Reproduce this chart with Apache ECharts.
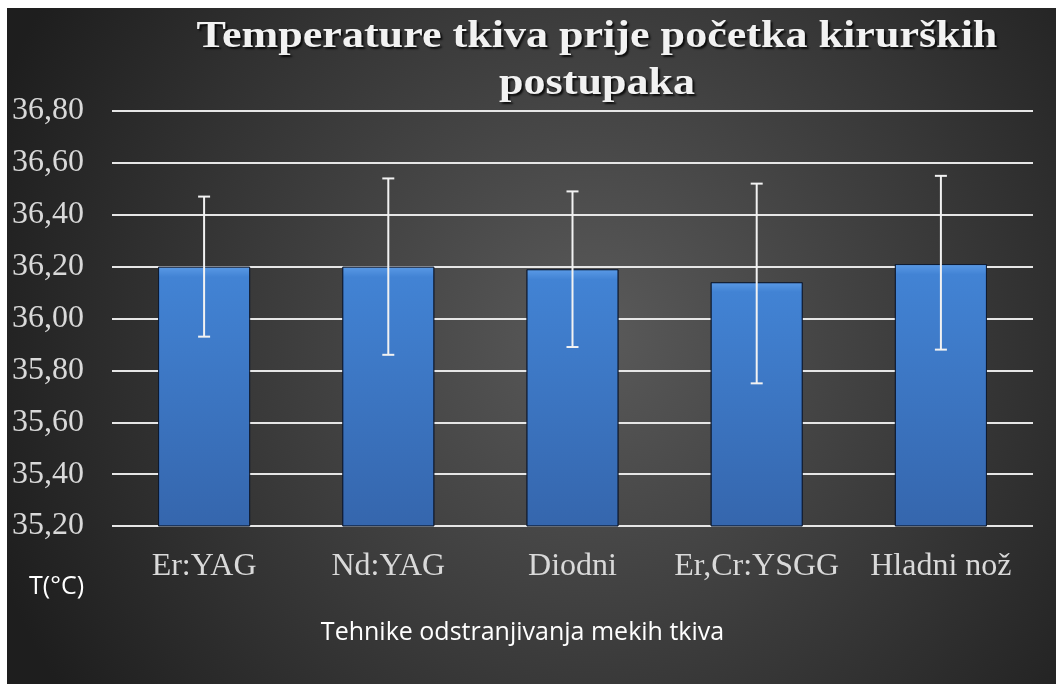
<!DOCTYPE html>
<html>
<head>
<meta charset="utf-8">
<script src="https://cdn.jsdelivr.net/npm/echarts@6/dist/echarts.min.js"></script>
<style>
    html, body { margin: 0; padding: 0; background: #ffffff; }
    #chart { position: absolute; left: 7px; top: 8px; width: 1049px; height: 676px; }
</style>
</head>
<body>
<div id="chart"></div>
<script>
// kategorije (tehnike)
const categories = ['Er:YAG', 'Nd:YAG', 'Diodni', 'Er,Cr:YSGG', 'Hladni nož'];
// srednje vrijednosti temperature
const meanValues = [36.20, 36.20, 36.19, 36.14, 36.21];
// granice error bara (gornja / donja)
const errUpper = [36.47, 36.54, 36.49, 36.52, 36.55];
const errLower = [35.93, 35.86, 35.89, 35.75, 35.88];
// os Y
const yMin = 35.2;
const yMax = 36.8;
const yStep = 0.2;

const chartTitle = 'Temperature tkiva prije početka kirurških\npostupaka';

const chartDom = document.getElementById('chart');
const myChart = echarts.init(chartDom);

const errData = categories.map((c, i) => [i, errLower[i], errUpper[i]]);

const option = {
    backgroundColor: {
        type: 'radial', x: 0.56, y: 0.48, r: 0.95,
        colorStops: [
            { offset: 0, color: '#5a5a5a' },
            { offset: 1, color: '#1e1e1e' }
        ]
    },
    // naslov - razvučen da odgovara razmaku slova u originalu
    graphic: [
        {
            type: 'text',
            x: 590,
            y: 6,
            scaleX: 1.16,
            style: {
                text: chartTitle,
                fontFamily: 'Liberation Serif',
                fontWeight: 'bold',
                fontSize: 38,
                lineHeight: 47,
                fill: '#f2f2f2',
                align: 'center',
                verticalAlign: 'top',
                textShadowColor: 'rgba(0,0,0,0.8)',
                textShadowOffsetX: 2,
                textShadowOffsetY: 2,
                textShadowBlur: 2
            }
        }
    ],
    grid: {
        left: 105,
        right: 23,
        top: 103,
        bottom: 158
    },
    xAxis: {
        type: 'category',
        data: categories,
        axisLine: { show: false },
        axisTick: { show: false },
        axisLabel: {
            interval: 0,
            margin: 25,
            color: '#d9d9d9',
            fontFamily: 'Liberation Serif',
            fontSize: 32
        },
        name: 'Tehnike odstranjivanja mekih tkiva',
        nameLocation: 'middle',
        nameGap: 94,
        nameTextStyle: {
            color: '#ffffff',
            fontFamily: 'Open Sans',
            fontSize: 25,
            padding: [0, 100, 0, 0]
        }
    },
    yAxis: {
        type: 'value',
        min: yMin,
        max: yMax,
        interval: yStep,
        axisLine: { show: false },
        axisTick: { show: false },
        axisLabel: {
            margin: 28,
            color: '#d9d9d9',
            fontFamily: 'Liberation Serif',
            fontSize: 32,
            formatter: (v) => v.toFixed(2).replace('.', ',')
        },
        splitLine: {
            lineStyle: { color: '#e6e6e6', width: 2 }
        },
        name: 'T(°C)',
        nameLocation: 'start',
        nameGap: 48,
        nameTextStyle: {
            color: '#ffffff',
            fontFamily: 'Open Sans',
            fontSize: 25,
            align: 'right',
            padding: [0, 28, 0, 0]
        }
    },
    series: [
        {
            type: 'bar',
            data: meanValues,
            barWidth: '50%',
            itemStyle: {
                color: {
                    type: 'linear', x: 0, y: 0, x2: 0, y2: 1,
                    colorStops: [
                        { offset: 0, color: '#5a9ae6' },
                        { offset: 0.04, color: '#4283d4' },
                        { offset: 1, color: '#3566ad' }
                    ]
                },
                borderColor: 'rgba(10,20,40,0.7)',
                borderWidth: 1
            },
            z: 3
        },
        {
            type: 'custom',
            data: errData,
            z: 5,
            renderItem: (params, api) => {
                const x = api.value(0);
                const lo = api.coord([x, api.value(1)]);
                const hi = api.coord([x, api.value(2)]);
                const half = 6;
                const style = { stroke: '#f2f2f2', lineWidth: 2 };
                return {
                    type: 'group',
                    children: [
                        { type: 'line', shape: { x1: hi[0], y1: hi[1], x2: lo[0], y2: lo[1] }, style: style },
                        { type: 'line', shape: { x1: hi[0] - half, y1: hi[1], x2: hi[0] + half, y2: hi[1] }, style: style },
                        { type: 'line', shape: { x1: lo[0] - half, y1: lo[1], x2: lo[0] + half, y2: lo[1] }, style: style }
                    ]
                };
            }
        }
    ]
};

myChart.setOption(option);
</script>
</body>
</html>
